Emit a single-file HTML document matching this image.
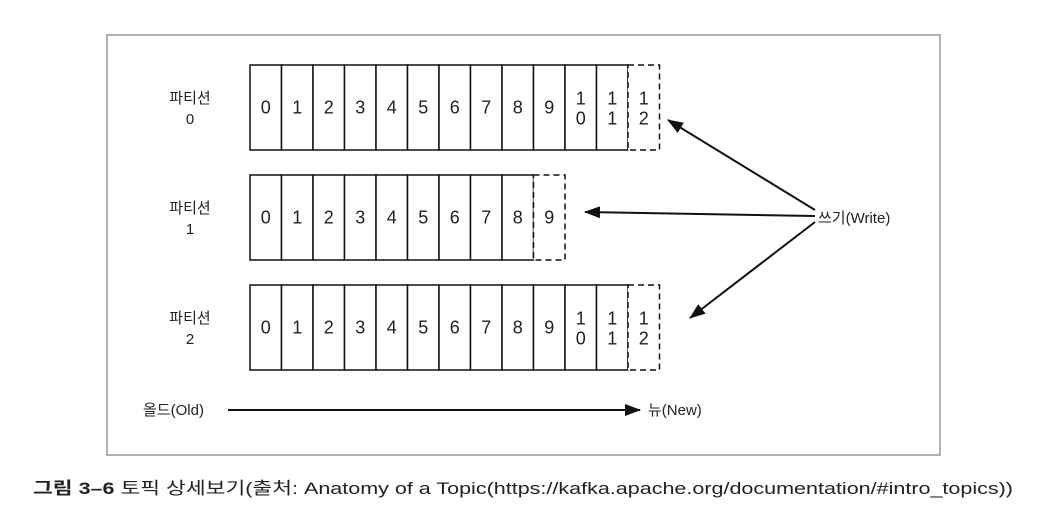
<!DOCTYPE html>
<html><head><meta charset="utf-8"><style>
body{margin:0;width:1037px;height:523px;background:#fff;overflow:hidden}
svg text{font-family:"Liberation Sans","Noto Sans CJK KR",sans-serif;fill:#222}
</style></head><body>
<svg id="s" width="1037" height="523">
<defs><marker id="ah2" markerWidth="16" markerHeight="12" refX="15" refY="6" orient="auto" markerUnits="userSpaceOnUse"><path d="M0,0 L16,6 L0,12 Z" fill="#111"/></marker></defs>
<rect x="107" y="35" width="833" height="420" fill="#fff" stroke="#999" stroke-width="1.5"/>
<g id="parts"></g>
<line x1="815" y1="210" x2="668" y2="120" stroke="#111" stroke-width="2" marker-end="url(#ah2)"/>
<line x1="815" y1="216" x2="585" y2="212" stroke="#111" stroke-width="2" marker-end="url(#ah2)"/>
<line x1="815" y1="222" x2="690" y2="318" stroke="#111" stroke-width="2" marker-end="url(#ah2)"/>
<text x="818" y="223" font-size="15">쓰기(Write)</text>
<text x="143" y="415" font-size="15">올드(Old)</text>
<line x1="228" y1="410" x2="640" y2="410" stroke="#111" stroke-width="2" marker-end="url(#ah2)"/>
<text x="648" y="415" font-size="15">뉴(New)</text>
<text x="33" y="494" font-size="17" textLength="980" lengthAdjust="spacingAndGlyphs"><tspan font-weight="bold">그림 3–6</tspan>  토픽 상세보기(출처: Anatomy of a Topic(https://kafka.apache.org/documentation/#intro_topics))</text>
</svg>
<script>
const partitionNames=["0","1","2"];
const partitionCounts=[13,10,13];
const ys=[65,175,285];
const g=document.getElementById('parts');
const NS='http://www.w3.org/2000/svg';
const x0=250,cw=31.5,h=85;
partitionCounts.forEach((n,p)=>{
  const y=ys[p];
  const lab=document.createElementNS(NS,'text');
  
  
  lab.setAttribute('x',190);lab.setAttribute('y',y+38);lab.setAttribute('font-size','15');lab.setAttribute('text-anchor','middle');
  lab.innerHTML='<tspan x="190">파티션</tspan><tspan x="190" dy="21">'+partitionNames[p]+'</tspan>';
  g.appendChild(lab);
  for(let i=0;i<n;i++){
    const last=i===n-1;
    const r=document.createElementNS(NS,'rect');
    
    
    r.setAttribute('x',x0+i*cw);r.setAttribute('y',y);r.setAttribute('width',cw);r.setAttribute('height',h);
    r.setAttribute('fill','#fff');r.setAttribute('stroke','#111');r.setAttribute('stroke-width',1.5);
    if(last)r.setAttribute('stroke-dasharray','6,4');
    g.appendChild(r);
    const t=document.createElementNS(NS,'text');
    
    
    const cx=x0+i*cw+cw/2;
    t.setAttribute('text-anchor','middle');t.setAttribute('font-size','18');
    if(i<10){t.setAttribute('x',cx);t.setAttribute('y',y+h/2+6);t.textContent=String(i);}
    else{const s=String(i);t.innerHTML='<tspan x="'+cx+'" y="'+(y+h/2-3)+'">'+s[0]+'</tspan><tspan x="'+cx+'" y="'+(y+h/2+17)+'">'+s[1]+'</tspan>';}
    g.appendChild(t);
  }
});
</script>
</body></html>
